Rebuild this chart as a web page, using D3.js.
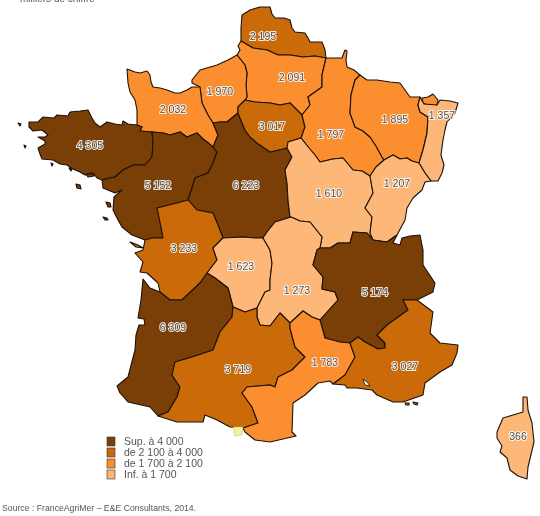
<!DOCTYPE html>
<html lang="fr">
<head>
<meta charset="utf-8">
<title>Carte des regions</title>
<script src="https://d3js.org/d3.v7.min.js"></script>
<style>
html, body { margin: 0; padding: 0; background: #fff; }
svg { display: block; filter: blur(0.35px); }
text { font-family: "Liberation Sans", Arial, sans-serif; }
</style>
</head>
<body>
<svg id="map" width="540" height="516"></svg>
<script>
// values by region
var regionNames = ["Nord-Pas-de-Calais", "Picardie", "Haute-Normandie", "Basse-Normandie", "Bretagne",
  "Pays de la Loire", "Centre", "Ile-de-France", "Champagne-Ardenne", "Lorraine", "Alsace",
  "Bourgogne", "Franche-Comte", "Poitou-Charentes", "Limousin", "Auvergne", "Rhone-Alpes",
  "Aquitaine", "Midi-Pyrenees", "Languedoc-Roussillon", "PACA", "Corse"];
var regionValues = [2195, 2091, 1970, 2032, 4305, 5152, 6223, 3017, 1797, 1895, 1357,
  1610, 1207, 3233, 1623, 1273, 5174, 6309, 3719, 1783, 3027, 366];

// legend
var classBreaks = [1700, 2100, 4000];
var classColors = ["#fdb778", "#fb8f2f", "#cb6a08", "#7a3f06"];
var legendLabels = ["Sup. à 4 000", "de 2 100 à 4 000", "de 1 700 à 2 100", "Inf. à 1 700"];
var sourceText = "Source : FranceAgriMer – E&E Consultants, 2014.";
var titleText = "milliers de chiffre";

// outlines, shared borders kept once
var arcs = {
  bretCoast: "137,125 128,124 123,121 122,125 115,124 107,122 100,127 95,123 92,118 88,110 80,111 70,112 68,116 57,115 54,118 43,117 38,122 29,122 29,127 33,131 42,130 48,135 45,137 38,137 45,141 45,144 38,148 40,154 42,159 53,160 60,164 67,165 73,169 80,172 85,175 93,173 97,178 102,180",
  bretBn: "137,125 142,127 140,131 152,132",
  bretPdl: "152,132 153,143 152,157 145,165 133,165 123,170 115,177 110,178 102,180",
  bnCoast: "137,125 137,110 135,100 130,92 128,83 127,69 135,72 140,73 147,71 150,75 151,82 153,87 160,88 167,90 175,93 180,93 187,90 192,87 200,87",
  bnPdl: "152,132 163,133 170,135 180,132 187,137 197,133 203,139 207,142 213,147",
  bnHn: "200,87 201,95 202,103 208,115 213,123",
  bnCentre: "213,123 218,135 213,147",
  hnCoast: "200,87 192,83 192,80 200,70 217,65 228,60 237,55",
  hnPic: "237,55 245,65 247,73 246,85 247,97 245,100",
  hnIdf: "245,100 238,107 238,113",
  hnCentre: "238,113 227,122 220,122 213,123",
  picCoast: "237,55 240,50 238,46 241,41",
  picNord: "241,41 253,48 267,50 278,55 290,55 303,57 315,56 326,58",
  picCa: "326,58 322,75 322,87 308,97 310,105 302,115",
  picIdf: "302,115 290,103 280,105 270,103 255,102 245,100",
  nordCoast: "241,41 241,28 242,15 250,10 260,7 270,7 272,14 275,18 284,18 290,20 292,28 295,32 305,33 308,38 310,42 322,42 325,50 326,58",
  caNorth: "326,58 342,58 345,50 347,51 346,60 347,67 354,70 360,75",
  caIdf: "302,115 305,127 301,138",
  idfBourg: "301,138 288,142 287,148",
  idfCentre: "287,148 270,152 257,143 250,137 245,130 240,118 238,113",
  caLor: "360,75 355,80 351,95 350,113 355,127 363,131 370,137 376,146 382,157 384,160",
  caBourg: "301,138 309,148 315,155 320,162 333,159 343,158 353,170 362,171 370,176",
  caFc: "370,176 376,167 384,160",
  lorNorth: "360,75 367,80 377,80 390,82 400,83 405,90 410,97 420,97",
  lorAlsace: "420,97 418,105 420,112 428,117 427,133 423,150 419,163",
  lorFc: "384,160 393,155 400,159 407,158 412,161 419,163",
  alsaceOuter: "420,97 424,104 437,105 440,100 450,101 458,103 455,113 447,122 445,130 443,140 441,155 444,165 442,173 438,181 431,181",
  alsaceFc: "431,181 425,173 419,163",
  bourgFc: "370,176 373,193 365,208 372,217 370,233 373,240",
  fcSwiss: "431,181 425,182 422,190 413,198 407,208 405,220 397,235",
  fcRa: "397,235 387,242 373,240",
  bourgRa: "373,240 367,233 353,232 350,243 338,243 330,248 320,248",
  bourgAuv: "291,217 300,221 310,222 322,237 320,248",
  centreBourg: "287,148 292,157 285,170 287,183 288,200 290,217 291,217",
  centreAuv: "263,238 267,232 275,222 291,217",
  centreLim: "223,238 243,237 255,238 263,238",
  centrePoit: "188,200 197,210 213,213 218,225 223,238",
  centrePdl: "213,147 217,152 213,163 208,173 195,178 192,188 188,200",
  pdlPoit: "188,200 177,203 157,208 160,222 163,238 152,238 145,240",
  pdlCoast: "102,180 103,188 115,193 122,190 114,197 113,210 118,220 122,227 132,235 145,240",
  poitCoast: "145,240 143,250 135,253 143,262 140,272 147,273 158,283 160,292",
  poitAq: "160,292 170,300 182,300 200,283 207,273",
  poitLim: "223,238 213,248 217,260 207,273",
  limAq: "207,273 215,278 228,288 233,307",
  limMidi: "233,307 245,312 257,308",
  limAuv: "257,308 265,292 270,290 270,280 272,263 270,250 263,238",
  aqCoast: "160,292 150,288 143,279 141,300 138,318 144,319 145,325 139,325 136,335 135,350 128,377 117,386 120,393 128,402 150,407 158,416",
  aqMidi: "158,416 168,412 177,397 180,387 172,375 175,362 192,357 213,350 220,332 232,317 233,307",
  midiAuv: "257,308 257,317 260,325 270,326 280,313 290,323",
  midiLang: "290,323 290,328 295,347 305,357 292,370 278,377 275,387 270,385 247,387 242,393 252,407 258,423 243,428",
  midiSouth: "158,416 177,422 203,422 205,415 217,420 230,427 243,428",
  auvLang: "290,323 303,311 312,317 320,320",
  auvRa: "320,248 317,250 313,265 323,277 322,289 335,292 338,300 320,320",
  langRa: "320,320 325,338 340,342 350,343",
  langPaca: "350,343 355,357 345,375 333,384",
  langCoast: "243,428 245,432 255,440 270,442 296,436 292,432 293,403 305,395 318,383 330,381 333,384",
  raPaca: "350,343 358,337 365,342 378,349 385,348 385,343 377,335 387,325 408,310 403,300 417,300",
  raEast: "397,235 393,243 400,245 402,238 410,236 420,235 423,250 423,265 435,283 433,292 417,300",
  pacaOuter: "417,300 433,312 430,333 440,343 458,345 457,353 452,365 440,372 425,383 423,395 403,402 393,402 377,395 372,390 357,388 347,388 345,385 333,384"
};

// region rings as arc names, "-" walks an arc backwards
var regionRings = {
  "Nord-Pas-de-Calais": ["nordCoast", "-picNord"],
  "Picardie": ["picNord", "picCa", "picIdf", "-hnPic", "picCoast"],
  "Haute-Normandie": ["hnCoast", "hnPic", "hnIdf", "hnCentre", "-bnHn"],
  "Basse-Normandie": ["bnCoast", "bnHn", "bnCentre", "-bnPdl", "-bretBn"],
  "Bretagne": ["bretCoast", "-bretPdl", "-bretBn"],
  "Pays de la Loire": ["bretPdl", "pdlCoast", "-pdlPoit", "-centrePdl", "-bnPdl"],
  "Centre": ["-hnCentre", "-idfCentre", "centreBourg", "-centreAuv", "-centreLim", "-centrePoit", "-centrePdl", "-bnCentre"],
  "Ile-de-France": ["hnIdf", "-idfCentre", "-idfBourg", "-caIdf", "picIdf"],
  "Champagne-Ardenne": ["caNorth", "caLor", "-caFc", "-caBourg", "-caIdf", "-picCa"],
  "Lorraine": ["lorNorth", "lorAlsace", "-lorFc", "-caLor"],
  "Alsace": ["alsaceOuter", "alsaceFc", "-lorAlsace"],
  "Bourgogne": ["caBourg", "bourgFc", "bourgRa", "-bourgAuv", "-centreBourg", "-idfBourg"],
  "Franche-Comte": ["caFc", "lorFc", "-alsaceFc", "fcSwiss", "fcRa", "-bourgFc"],
  "Poitou-Charentes": ["centrePoit", "poitLim", "-poitAq", "-poitCoast", "-pdlPoit"],
  "Limousin": ["centreLim", "-limAuv", "-limMidi", "-limAq", "-poitLim"],
  "Auvergne": ["centreAuv", "bourgAuv", "auvRa", "-auvLang", "-midiAuv", "limAuv"],
  "Rhone-Alpes": ["-fcRa", "raEast", "-raPaca", "-langRa", "-auvRa", "-bourgRa"],
  "Aquitaine": ["poitAq", "limAq", "-aqMidi", "-aqCoast"],
  "Midi-Pyrenees": ["limMidi", "midiAuv", "midiLang", "-midiSouth", "aqMidi"],
  "Languedoc-Roussillon": ["auvLang", "langRa", "langPaca", "-langCoast", "-midiLang"],
  "PACA": ["raPaca", "pacaOuter", "-langPaca"]
};

// pieces that are not tied to a neighbour
var extraRings = {
  "Lorraine": ["422,98 428,97 433,94 438,100 437,105 430,106 423,103"],
  "Corse": ["523,397 527,397 528,410 532,423 534,442 528,467 527,479 518,476 510,470 507,458 500,452 502,446 497,438 497,432 503,418 513,415 523,412"],
  "Bretagne": ["18,123 21,124 20,126", "24,145 26,146 25,148", "51,163 53,164 52,166", "69,168 72,169 71,171", "76,184 80,185 81,189 77,188", "86,174 92,173 94,176 88,177"],
  "Pays de la Loire": ["106,202 110,203 111,207 108,207", "103,217 107,218 108,220 105,220"],
  "Poitou-Charentes": ["130,242 138,245 143,248 136,247"],
  "PACA": ["405,403 409,403 409,405 406,405", "413,402 418,403 417,405 414,404"]
};

// etang de Berre
var lakes = ["363,379 367,382 370,386 365,385"];

var labelSpots = {
  "Nord-Pas-de-Calais": [263, 36], "Picardie": [292, 77], "Haute-Normandie": [220, 91],
  "Basse-Normandie": [173, 109], "Bretagne": [90, 145], "Pays de la Loire": [158, 185],
  "Centre": [246, 185], "Ile-de-France": [272, 126], "Champagne-Ardenne": [331, 134],
  "Lorraine": [395, 119], "Alsace": [442, 115], "Bourgogne": [329, 193],
  "Franche-Comte": [397, 183], "Poitou-Charentes": [184, 248], "Limousin": [241, 266],
  "Auvergne": [297, 290], "Rhone-Alpes": [375, 292], "Aquitaine": [173, 327],
  "Midi-Pyrenees": [238, 369], "Languedoc-Roussillon": [325, 362], "PACA": [405, 366], "Corse": [518, 436]
};

var andorra = "233,427 243,427 242,435 235,436";

function parseArc(s) {
  return s.split(" ").map(function(p) { return p.split(",").map(Number); });
}
function closeRing(pts) {
  return pts.concat([pts[0]]);
}
function buildRing(names) {
  var ring = [];
  names.forEach(function(n) {
    var back = n.charAt(0) == "-";
    var pts = parseArc(arcs[back ? n.slice(1) : n]);
    if (back) pts.reverse();
    ring = ring.concat(ring.length ? pts.slice(1) : pts);
  });
  return ring;
}

var colorScale = d3.scaleThreshold().domain(classBreaks).range(classColors);
var fr = d3.formatLocale({ decimal: ",", thousands: " ", grouping: [3], currency: ["", " €"] });
var fmt = fr.format(",d");

var features = regionNames.map(function(name, i) {
  var polys = [];
  if (regionRings[name]) polys.push([buildRing(regionRings[name])]);
  (extraRings[name] || []).forEach(function(s) { polys.push([closeRing(parseArc(s))]); });
  return {
    type: "Feature",
    properties: { name: name, value: regionValues[i] },
    geometry: { type: "MultiPolygon", coordinates: polys }
  };
});

var svg = d3.select("#map");
var path = d3.geoPath(d3.geoIdentity());

svg.append("text").attr("x", 20).attr("y", 2).attr("font-size", 10).attr("fill", "#555").text(titleText);

svg.append("g").selectAll("path")
  .data(features)
  .join("path")
  .attr("d", path)
  .attr("fill", function(d) { return colorScale(d.properties.value); })
  .attr("stroke", "#1c1206")
  .attr("stroke-width", 1.1)
  .attr("stroke-linejoin", "round");

svg.append("g").selectAll("path")
  .data(lakes)
  .join("path")
  .attr("d", function(s) { return path({ type: "Polygon", coordinates: [closeRing(parseArc(s))] }); })
  .attr("fill", "#fff")
  .attr("stroke", "#1c1206")
  .attr("stroke-width", 0.8);

svg.append("path")
  .datum({ type: "Polygon", coordinates: [closeRing(parseArc(andorra))] })
  .attr("d", path)
  .attr("fill", "#f4f1a6")
  .attr("stroke", "#bdb26a")
  .attr("stroke-width", 0.5);

svg.append("g").selectAll("text")
  .data(features)
  .join("text")
  .attr("x", function(d) { return labelSpots[d.properties.name][0]; })
  .attr("y", function(d) { return labelSpots[d.properties.name][1]; })
  .attr("dy", "0.36em")
  .attr("text-anchor", "middle")
  .attr("font-size", 10.5)
  .attr("fill", "#55504c")
  .attr("stroke", "#fff")
  .attr("stroke-width", 2)
  .attr("stroke-opacity", 0.85)
  .attr("paint-order", "stroke")
  .text(function(d) { return fmt(d.properties.value); });

// legend, darkest class first
var legendY = d3.scalePoint().domain(legendLabels).range([441.5, 474.5]);
var legend = svg.append("g");
legendLabels.forEach(function(lab, i) {
  var y = legendY(lab);
  legend.append("rect")
    .attr("x", 107).attr("y", y - 4.5).attr("width", 8).attr("height", 9)
    .attr("fill", classColors[classColors.length - 1 - i])
    .attr("stroke", "#333").attr("stroke-width", 0.6);
  legend.append("text")
    .attr("x", 124).attr("y", y).attr("dy", "0.36em")
    .attr("font-size", 10.5).attr("fill", "#555").text(lab);
});

svg.append("text").attr("x", 2).attr("y", 511).attr("font-size", 8.7).attr("fill", "#555").text(sourceText);
</script>
</body>
</html>
